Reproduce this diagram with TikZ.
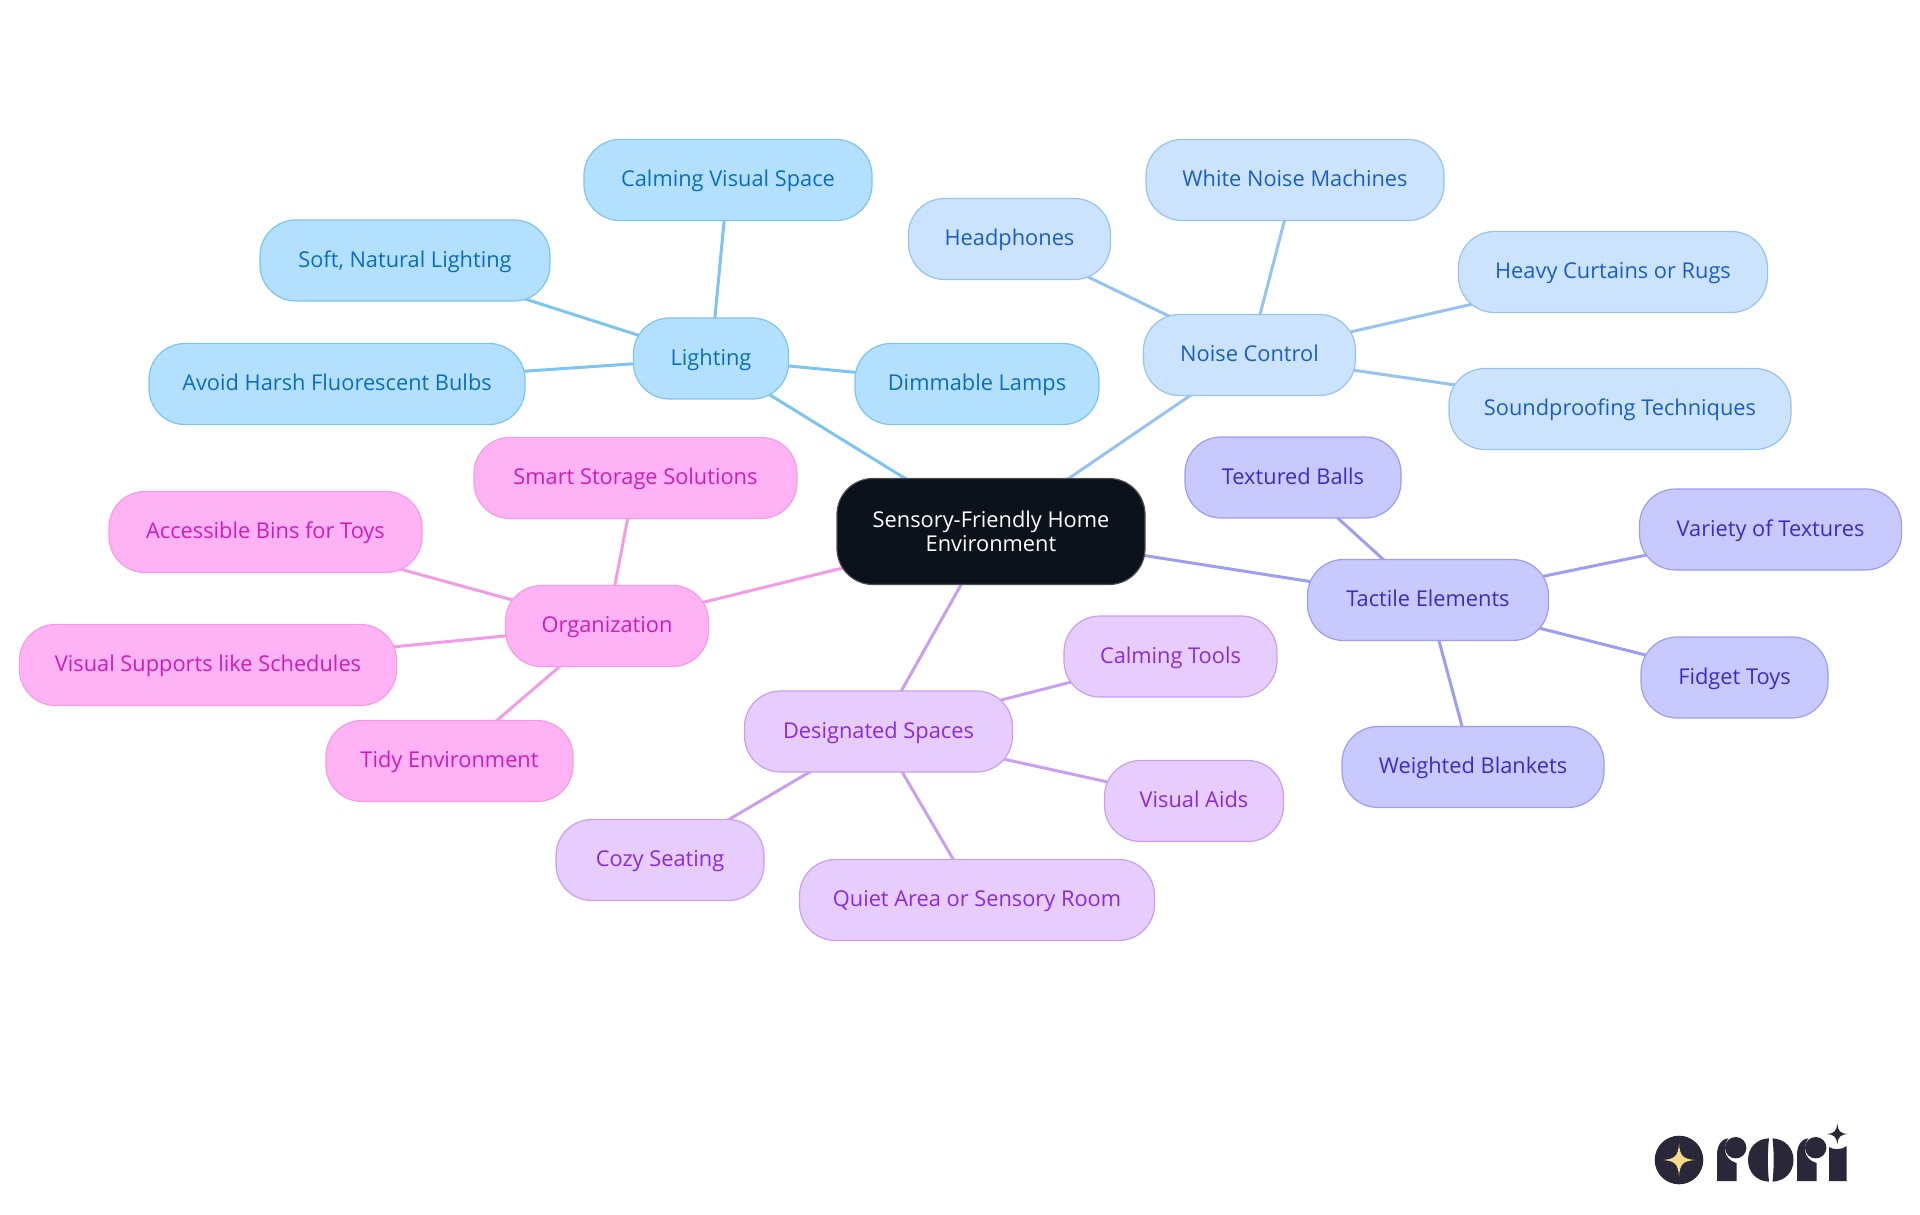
\documentclass[tikz,border=0pt]{standalone}
\usepackage{fontspec}
\setmainfont{Open Sans}
\usetikzlibrary{backgrounds}
\definecolor{rootfill}{HTML}{0B121B}
\definecolor{lightfill}{HTML}{B3E0FF}
\definecolor{lightline}{HTML}{7CC4F2}
\definecolor{lighttext}{HTML}{0A6DBE}
\definecolor{noisefill}{HTML}{CCE3FD}
\definecolor{noiseline}{HTML}{96C3F2}
\definecolor{noisetext}{HTML}{1A5EC4}
\definecolor{tactfill}{HTML}{C8C9FF}
\definecolor{tactline}{HTML}{9D9DF2}
\definecolor{tacttext}{HTML}{3A2CC4}
\definecolor{spacefill}{HTML}{E6CCFF}
\definecolor{spaceline}{HTML}{C99FF2}
\definecolor{spacetext}{HTML}{8A2BDC}
\definecolor{orgfill}{HTML}{FFB3F5}
\definecolor{orgline}{HTML}{F59BE6}
\definecolor{orgtext}{HTML}{CF1CB8}
\definecolor{logodark}{HTML}{2A2838}
\definecolor{logogold}{HTML}{FBD98A}

\begin{document}
\begin{tikzpicture}[x=1pt,y=-1pt,
    bubble/.style={rectangle,rounded corners=36pt,line width=1.2pt,minimum height=81pt,
      inner sep=0pt,align=center,font=\fontsize{21.8}{24.5}\selectfont},
    leaf/.style={bubble,text height=17pt,text depth=3.5pt},
    lighting/.style={leaf,fill=lightfill,draw=lightline,text=lighttext},
    noise/.style={leaf,fill=noisefill,draw=noiseline,text=noisetext},
    tactile/.style={leaf,fill=tactfill,draw=tactline,text=tacttext},
    spaces/.style={leaf,fill=spacefill,draw=spaceline,text=spacetext},
    organize/.style={leaf,fill=orgfill,draw=orgline,text=orgtext},
    spoke/.style={line width=3pt}]
  \useasboundingbox (0,0) rectangle (1920,1215);

  \node[bubble,fill=rootfill,draw=black!70,text=white,minimum width=308pt,minimum height=106pt]
    (root) at (991,531.5) {Sensory-Friendly Home\\Environment};

  % lighting
  \node[lighting,minimum width=155pt] (light) at (711,358.5) {Lighting};
  \node[lighting,minimum width=288pt] (calmspace) at (728,180) {Calming Visual Space};
  \node[lighting,minimum width=290pt] (softlight) at (405,260.5) {Soft, Natural Lighting};
  \node[lighting,minimum width=376pt] (avoidbulb) at (337,384) {Avoid Harsh Fluorescent Bulbs};
  \node[lighting,minimum width=244pt] (lamps) at (977,384) {Dimmable Lamps};

  % noise
  \node[noise,minimum width=212pt] (noisectl) at (1249.5,355) {Noise Control};
  \node[noise,minimum width=298pt] (whitenoise) at (1295,180) {White Noise Machines};
  \node[noise,minimum width=202pt] (phones) at (1009.5,239) {Headphones};
  \node[noise,minimum width=309pt] (curtains) at (1613,272) {Heavy Curtains or Rugs};
  \node[noise,minimum width=342pt] (soundproof) at (1620,409) {Soundproofing Techniques};

  % tactile
  \node[tactile,minimum width=241pt] (tact) at (1428,600) {Tactile Elements};
  \node[tactile,minimum width=216pt] (balls) at (1293,477.5) {Textured Balls};
  \node[tactile,minimum width=262pt] (textures) at (1770.5,529.5) {Variety of Textures};
  \node[tactile,minimum width=187pt] (fidget) at (1734.5,677.5) {Fidget Toys};
  \node[tactile,minimum width=262pt] (blankets) at (1473,767) {Weighted Blankets};

  % spaces
  \node[spaces,minimum width=268pt] (desig) at (878.5,731.5) {Designated Spaces};
  \node[spaces,minimum width=213pt] (calmtools) at (1170.5,656.5) {Calming Tools};
  \node[spaces,minimum width=179pt] (aids) at (1194,801) {Visual Aids};
  \node[spaces,minimum width=355pt] (quiet) at (977,900) {Quiet Area or Sensory Room};
  \node[spaces,minimum width=208pt] (cozy) at (660,860) {Cozy Seating};

  % organization
  \node[organize,minimum width=203pt] (org) at (607,626) {Organization};
  \node[organize,minimum width=323pt] (storage) at (635.5,478) {Smart Storage Solutions};
  \node[organize,minimum width=313pt] (bins) at (265.5,532) {Accessible Bins for Toys};
  \node[organize,minimum width=377pt] (schedules) at (208,665) {Visual Supports like Schedules};
  \node[organize,minimum width=247pt] (tidy) at (449.5,761) {Tidy Environment};

  \begin{scope}[on background layer]
    \draw[spoke,lightline] (root.center) -- (light.center);
    \draw[spoke,lightline] (light.center) -- (calmspace.center);
    \draw[spoke,lightline] (light.center) -- (softlight.center);
    \draw[spoke,lightline] (light.center) -- (avoidbulb.center);
    \draw[spoke,lightline] (light.center) -- (lamps.center);
    \draw[spoke,noiseline] (root.center) -- (noisectl.center);
    \draw[spoke,noiseline] (noisectl.center) -- (whitenoise.center);
    \draw[spoke,noiseline] (noisectl.center) -- (phones.center);
    \draw[spoke,noiseline] (noisectl.center) -- (curtains.center);
    \draw[spoke,noiseline] (noisectl.center) -- (soundproof.center);
    \draw[spoke,tactline] (root.center) -- (tact.center);
    \draw[spoke,tactline] (tact.center) -- (balls.center);
    \draw[spoke,tactline] (tact.center) -- (textures.center);
    \draw[spoke,tactline] (tact.center) -- (fidget.center);
    \draw[spoke,tactline] (tact.center) -- (blankets.center);
    \draw[spoke,spaceline] (root.center) -- (desig.center);
    \draw[spoke,spaceline] (desig.center) -- (calmtools.center);
    \draw[spoke,spaceline] (desig.center) -- (aids.center);
    \draw[spoke,spaceline] (desig.center) -- (quiet.center);
    \draw[spoke,spaceline] (desig.center) -- (cozy.center);
    \draw[spoke,orgline] (root.center) -- (org.center);
    \draw[spoke,orgline] (org.center) -- (storage.center);
    \draw[spoke,orgline] (org.center) -- (bins.center);
    \draw[spoke,orgline] (org.center) -- (schedules.center);
    \draw[spoke,orgline] (org.center) -- (tidy.center);
  \end{scope}

  % logo
  \fill[logodark] (1679,1160) circle (24.3);
  \fill[logogold] (1663,1160) .. controls (1675,1159) and (1678,1156) .. (1679,1144)
    .. controls (1680,1156) and (1683,1159) .. (1695,1160)
    .. controls (1683,1161) and (1680,1164) .. (1679,1176)
    .. controls (1678,1164) and (1675,1161) .. (1663,1160) -- cycle;
  \fill[logodark] (1717,1181) -- (1717,1155) .. controls (1717,1146) and (1721,1139) .. (1728.3,1138.3)
    .. controls (1720,1151) and (1728,1161) .. (1736.7,1163) -- (1736.7,1181) -- cycle;
  \fill[logodark] (1735.7,1147.7) circle (10.7);
  \fill[logodark] (1769,1138.3) .. controls (1756,1139) and (1748,1148) .. (1748,1160)
    .. controls (1748,1172) and (1756,1181) .. (1769,1181.7)
    .. controls (1767.5,1170) and (1767.5,1150) .. (1769,1138.3) -- cycle;
  \fill[logodark] (1772.5,1138.3) .. controls (1785,1139) and (1793.5,1148) .. (1793.5,1160)
    .. controls (1793.5,1172) and (1785,1181) .. (1772.5,1181.7)
    .. controls (1774,1170) and (1774,1150) .. (1772.5,1138.3) -- cycle;
  \fill[logodark] (1797,1181) -- (1797,1155) .. controls (1797,1146) and (1801,1139) .. (1808.3,1138.3)
    .. controls (1800,1151) and (1808,1161) .. (1816.7,1163) -- (1816.7,1181) -- cycle;
  \fill[logodark] (1815.7,1147.7) circle (10.7);
  \fill[logodark] (1829,1181) -- (1829,1147) .. controls (1833,1150) and (1842,1150) .. (1846.7,1146)
    -- (1846.7,1181) -- cycle;
  \fill[logodark] (1827,1134) .. controls (1834,1133.5) and (1836.5,1131) .. (1837.3,1124)
    .. controls (1838,1131) and (1840.5,1133.5) .. (1847.7,1134)
    .. controls (1840.5,1134.5) and (1838,1137) .. (1837.3,1144)
    .. controls (1836.5,1137) and (1834,1134.5) .. (1827,1134) -- cycle;
\end{tikzpicture}
\end{document}
